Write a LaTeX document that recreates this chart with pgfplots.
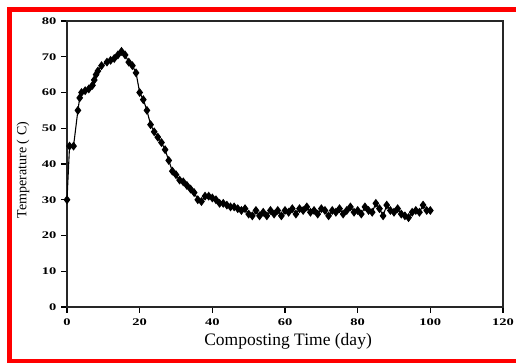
\documentclass[border=0pt]{standalone}
\usepackage{pgfplots}
\pgfplotsset{compat=1.18}
\usepackage{fontspec}
\setmainfont{Liberation Serif}
\pgfplotstableread{
day T
0 30
0.7 45
1.8 45
3 55
3.5 58.5
4 60
5 60.5
6 61
7 62
7.5 63.5
8 65
8.5 66
9.5 67.5
11 68.5
12 69
13 69.5
14 70.5
15 71.5
16 70.5
17 68.5
18 67.5
19 65.5
20 60
21 58
22 55
23 51
24 49
25 47.5
26 46
27 44
28 41
29 38
30 37
31 35.5
32 35
33 34
34 33
35 32
36 30
37 29.5
38 31
39 31
40 30.5
41 30
42 29
43 29
44 28.5
45 28
46 28
47 27.5
48 27
49 27.5
50 26
51 25.5
52 27
53 25.5
54 26.5
55 25.5
56 27
57 26
58 27
59 25.5
60 27
61 26.5
62 27.5
63 26
64 27.5
65 27
66 28
67 26.5
68 27
69 26
70 27.5
71 27
72 25.5
73 27
74 26.5
75 27.5
76 26
77 27
78 28
79 26.5
80 27
81 26
82 28
83 27
84 26.5
85 29
86 27.5
87 25.5
88 28.5
89 27
90 26.5
91 27.5
92 26
93 25.5
94 25
95 26.5
96 27
97 26.5
98 28.5
99 27
100 27
}\tempdata
\begin{document}
\begin{tikzpicture}[x=1pt,y=1pt]
\useasboundingbox (0,0) rectangle (516,363);
\begin{axis}[
  at={(67pt,56pt)}, anchor=south west,
  scale only axis, width=436pt, height=286pt,
  xmin=0, xmax=120, ymin=0, ymax=80,
  xtick={0,20,...,120}, ytick={0,10,...,80},
  xtick pos=bottom, ytick pos=left,
  tick align=outside, major tick length=6pt,
  axis line style={line width=1.4pt, black!85},
  every tick/.style={line width=1.1pt, black},
  /pgf/number format/assume math mode=true,
  tick label style={font=\fontsize{14.5}{14.5}\selectfont\bfseries},
  xticklabel={\scalebox{1}[0.7]{\pgfmathprintnumber{\tick}}},
  yticklabel={\scalebox{1}[0.7]{\pgfmathprintnumber{\tick}}},
  xticklabel style={yshift=-2pt},
  yticklabel style={xshift=-1pt},
  xlabel={Composting Time (day)},
  ylabel={Temperature ( C)},
  xlabel style={font=\fontsize{17.5}{17.5}\selectfont, at={(axis description cs:0.507,-0.133)}, anchor=base},
  ylabel style={font=\fontsize{14}{14}\selectfont, at={(axis description cs:-0.101,0.479)}, anchor=center, rotate=0},
]
\addplot[black, line width=1.1pt, mark=diamond*, mark size=3.6pt, mark options={solid, fill=black}] table[x=day, y=T] {\tempdata};
\end{axis}
\draw[red, line width=5pt] (520,1.5) -- (9.5,1.5) -- (9.5,353.5) -- (520,353.5);
\end{tikzpicture}
\end{document}
